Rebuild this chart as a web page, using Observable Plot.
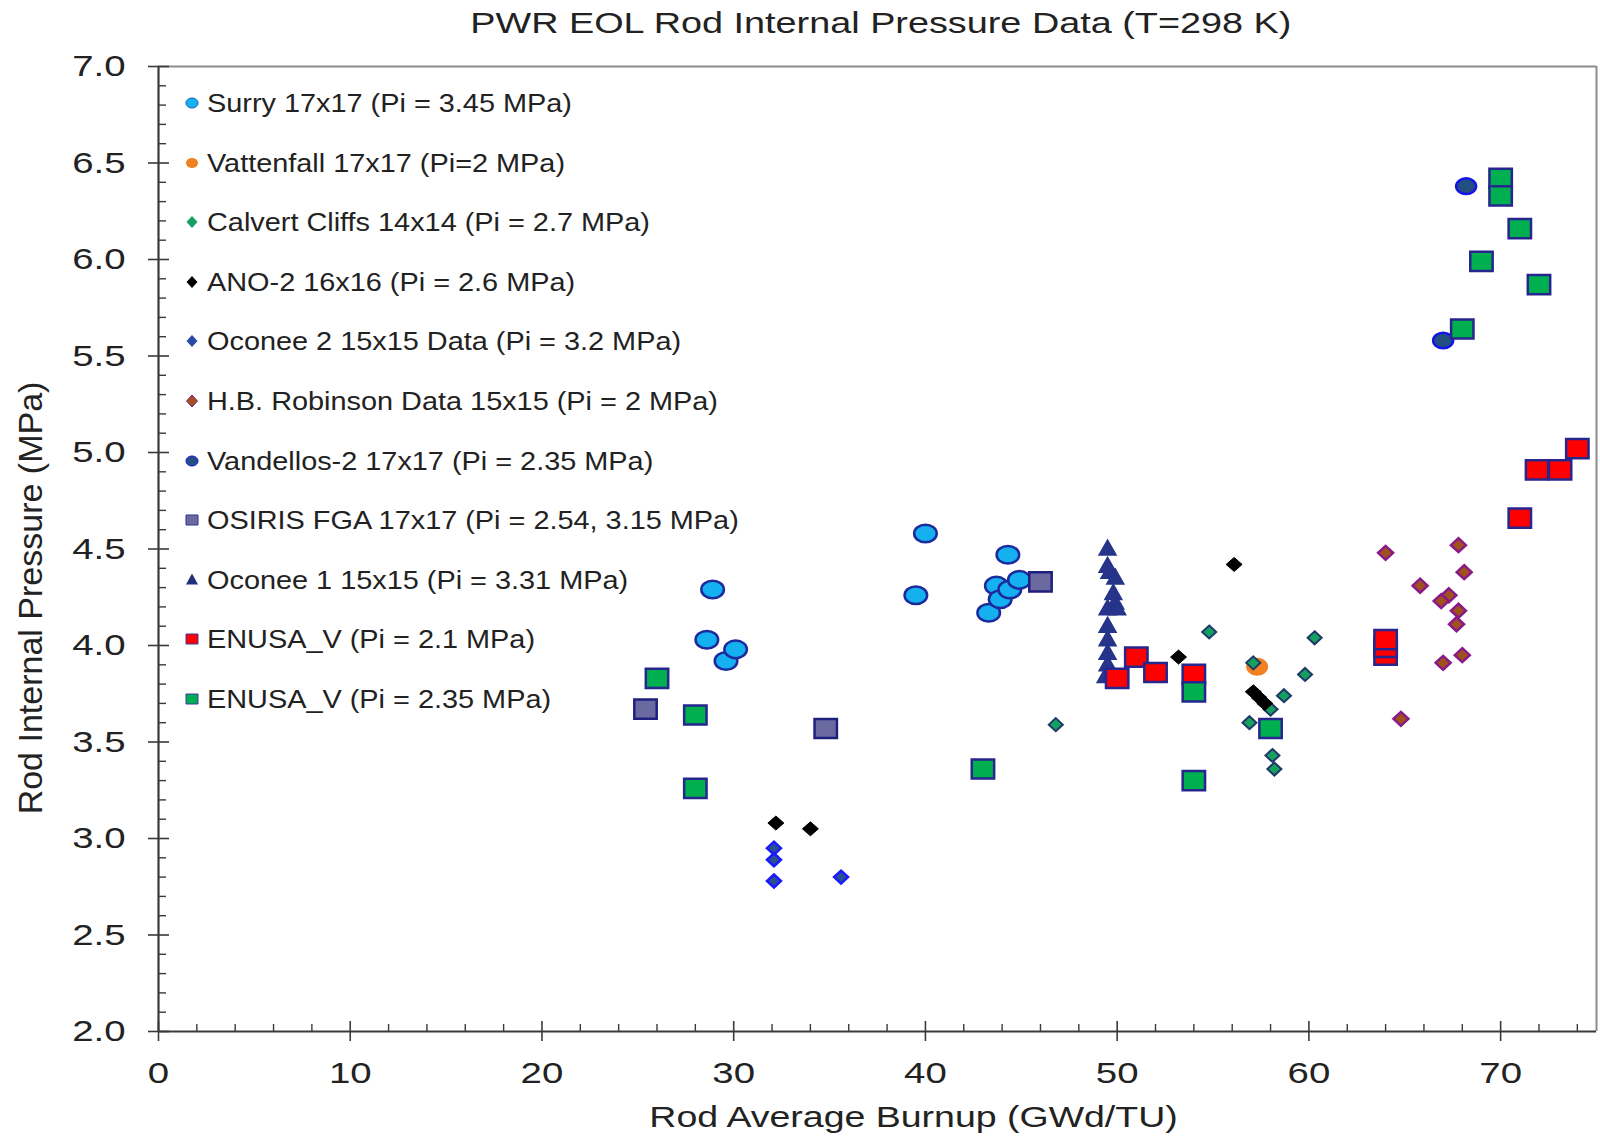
<!DOCTYPE html>
<html>
<head>
<meta charset="utf-8">
<script src="https://cdn.jsdelivr.net/npm/d3@7"></script>
<script src="https://cdn.jsdelivr.net/npm/@observablehq/plot@0.6"></script>
<style>
  body { margin: 0; background: #fff; font-family: "Liberation Sans", Arial, sans-serif; }
  #wrap { position: relative; width: 1600px; height: 1138px; overflow: hidden; background: #fff; }
  #title { height: 48px; line-height: 46px; font-size: 30px; color: #222; text-align: center;
           box-sizing: border-box; padding-left: 162px; width: 1600px; white-space: nowrap; }
  #title span { display: inline-block; transform: scaleX(1.26); }
  #legend { position: absolute; left: 0; top: 0; width: 1px; height: 1px; }
  .lrow { position: absolute; left: 180px; height: 30px; white-space: nowrap; }
  .lrow svg { position: absolute; left: 4px; top: 8px; overflow: visible; }
  .lrow span { position: absolute; left: 27px; top: 0; line-height: 30px; font-size: 26px; color: #222;
               transform: scaleX(1.11); transform-origin: left center; }
</style>
</head>
<body>
<div id="wrap">
  <div id="title"><span>PWR EOL Rod Internal Pressure Data (T=298 K)</span></div>
  <div id="chart"></div>
  <div id="legend"></div>
</div>
<script>
// ---------- data (burnup GWd/TU, pressure MPa) ----------
const surry      = [[28.9,4.29],[28.6,4.03],[29.6,3.92],[30.1,3.98],[40.0,4.58],[39.5,4.26],[43.3,4.17],[43.7,4.31],[43.9,4.24],[44.4,4.29],[44.3,4.47],[44.9,4.34]];
const vattenfall = [[57.3,3.89]];
const calvert    = [[46.8,3.59],[54.8,4.07],[60.3,4.04],[57.1,3.91],[59.8,3.85],[58.7,3.74],[58.0,3.67],[56.9,3.60],[58.1,3.43],[58.2,3.36]];
const ano2       = [[32.2,3.08],[34.0,3.05],[56.1,4.42],[53.2,3.94],[57.1,3.76],[57.4,3.73],[57.7,3.70]];
const oconee2    = [[32.1,2.95],[32.1,2.89],[32.1,2.78],[35.6,2.80]];
const robinson   = [[64.0,4.48],[67.8,4.52],[68.1,4.38],[65.8,4.31],[67.3,4.26],[66.9,4.23],[67.8,4.18],[67.7,4.11],[68.0,3.95],[67.0,3.91],[64.8,3.62]];
const vandellos  = [[68.2,6.38],[67.0,5.58]];
const osiris     = [[25.4,3.67],[34.8,3.57],[46.0,4.33]];
const oconee1    = [[49.5,4.50],[49.5,4.41],[49.6,4.38],[49.9,4.35],[49.8,4.27],[49.9,4.22],[49.5,4.19],[50.0,4.19],[49.5,4.10],[49.5,4.03],[49.5,3.96],[49.5,3.90],[49.4,3.84]];
const enusa21    = [[74.0,5.02],[71.9,4.91],[73.1,4.91],[71.0,4.66],[51.0,3.94],[50.0,3.83],[52.0,3.86],[54.0,3.85],[64.0,3.95],[64.0,3.99],[64.0,4.03]];
const enusa235   = [[70.0,6.42],[70.0,6.33],[71.0,6.16],[69.0,5.99],[72.0,5.87],[68.0,5.64],[26.0,3.83],[28.0,3.64],[28.0,3.26],[43.0,3.36],[54.0,3.30],[54.0,3.76],[58.0,3.57]];

const seriesNames = [
  "Surry 17x17 (Pi = 3.45 MPa)",
  "Vattenfall 17x17 (Pi=2 MPa)",
  "Calvert Cliffs 14x14 (Pi = 2.7 MPa)",
  "ANO-2 16x16 (Pi = 2.6 MPa)",
  "Oconee 2 15x15 Data (Pi = 3.2 MPa)",
  "H.B. Robinson Data 15x15 (Pi = 2 MPa)",
  "Vandellos-2 17x17 (Pi = 2.35 MPa)",
  "OSIRIS FGA 17x17 (Pi = 2.54, 3.15 MPa)",
  "Oconee 1 15x15 (Pi = 3.31 MPa)",
  "ENUSA_V (Pi = 2.1 MPa)",
  "ENUSA_V (Pi = 2.35 MPa)"
];
const seriesData = [surry, vattenfall, calvert, ano2, oconee2, robinson, vandellos, osiris, oconee1, enusa21, enusa235];

const xTicks = [0, 10, 20, 30, 40, 50, 60, 70];
const yTicks = [2.0, 2.5, 3.0, 3.5, 4.0, 4.5, 5.0, 5.5, 6.0, 6.5, 7.0];
const xMinor = d3.range(0, 76, 2).filter(v => v % 10 !== 0);
const yMinor = d3.range(20, 71, 1).filter(v => v % 5 !== 0).map(v => v / 10);

// ---------- marker shapes ----------
const K = 0.5523;
function ellipse(rx, ry) { return {draw(c) {
  c.moveTo(rx, 0);
  c.bezierCurveTo(rx, ry*K, rx*K, ry, 0, ry);
  c.bezierCurveTo(-rx*K, ry, -rx, ry*K, -rx, 0);
  c.bezierCurveTo(-rx, -ry*K, -rx*K, -ry, 0, -ry);
  c.bezierCurveTo(rx*K, -ry, rx, -ry*K, rx, 0);
  c.closePath(); }}; }
function rect(w, h) { return {draw(c) { c.moveTo(-w,-h); c.lineTo(w,-h); c.lineTo(w,h); c.lineTo(-w,h); c.closePath(); }}; }
function diamond(w, h) { return {draw(c) { c.moveTo(0,-h); c.lineTo(w,0); c.lineTo(0,h); c.lineTo(-w,0); c.closePath(); }}; }
function triangle(w, h) { return {draw(c) { c.moveTo(0,-h*0.6); c.lineTo(w,h*0.4); c.lineTo(-w,h*0.4); c.closePath(); }}; }

const styles = [
  {sym: ellipse(11.3, 8.8), leg: ellipse(6, 5),   fill: "#14b0f0", stroke: "#1c2a9c", sw: 2.5, lfill: "#14b0f0", lstroke: "#1c5ac0", lsw: 1},
  {sym: ellipse(11, 9),     leg: ellipse(6, 5),   fill: "#f08020", stroke: "none",    sw: 0,   lfill: "#f08020", lstroke: "none", lsw: 0},
  {sym: diamond(7, 6.5),    leg: diamond(5.5, 6), fill: "#15a060", stroke: "#1f3868", sw: 2,   lfill: "#15a060", lstroke: "none", lsw: 0},
  {sym: diamond(8, 7),      leg: diamond(5.5, 6), fill: "#000000", stroke: "#000000", sw: 1,   lfill: "#000000", lstroke: "none", lsw: 0},
  {sym: diamond(7, 6.5),    leg: diamond(5.5, 6), fill: "#2a5090", stroke: "#1a1aff", sw: 2.5, lfill: "#2a48a8", lstroke: "none", lsw: 0},
  {sym: diamond(7.5, 7),    leg: diamond(5.5, 6), fill: "#a0521a", stroke: "#8a1a8a", sw: 2.5, lfill: "#a0521a", lstroke: "#8a1a8a", lsw: 1},
  {sym: ellipse(10, 7.8),   leg: ellipse(6, 5),   fill: "#224e84", stroke: "#1414e6", sw: 2.5, lfill: "#224e84", lstroke: "#1414e6", lsw: 1},
  {sym: rect(11.2, 9.6),    leg: rect(6, 5),      fill: "#6a6aa0", stroke: "#1f1f80", sw: 2.5, lfill: "#6a6aa0", lstroke: "#2f2f90", lsw: 1},
  {sym: triangle(8.5, 15),  leg: triangle(6, 11), fill: "#26348a", stroke: "#26348a", sw: 1.5, lfill: "#1f2f7a", lstroke: "none", lsw: 0},
  {sym: rect(11.2, 9.6),    leg: rect(6, 5),      fill: "#ff0000", stroke: "#26268e", sw: 2.5, lfill: "#ff0000", lstroke: "#3a3aa0", lsw: 1},
  {sym: rect(11.2, 9.6),    leg: rect(6, 5),      fill: "#00b050", stroke: "#26268e", sw: 2.5, lfill: "#00b050", lstroke: "#3a3aa0", lsw: 1}
];

// ---------- chart ----------
const axisColor = "#3a3a3a";
const marks = [
  Plot.ruleY([7], {stroke: "#8c8c8c", strokeWidth: 2}),
  Plot.ruleX([75], {stroke: "#8c8c8c", strokeWidth: 2}),
  Plot.ruleX([0], {stroke: axisColor, strokeWidth: 2.2}),
  Plot.ruleY([2], {stroke: axisColor, strokeWidth: 2.2}),
  Plot.axisY(yTicks, {anchor: "left", tickSize: 10, tickPadding: 23, tickFormat: d3.format(".1f"), fontSize: 30, label: null, stroke: axisColor, strokeWidth: 1.6, fill: "#222"}),
  Plot.axisY(yTicks, {anchor: "left", tickSize: -11, tickFormat: () => "", label: null, stroke: axisColor, strokeWidth: 1.6}),
  Plot.axisY(yMinor, {anchor: "left", tickSize: -8, tickFormat: () => "", label: null, stroke: axisColor, strokeWidth: 1.4}),
  Plot.axisX(xTicks, {anchor: "bottom", tickSize: 10, tickPadding: 20, tickFormat: d3.format("d"), fontSize: 30, label: null, stroke: axisColor, strokeWidth: 1.6, fill: "#222"}),
  Plot.axisX(xTicks, {anchor: "bottom", tickSize: -10, tickFormat: () => "", label: null, stroke: axisColor, strokeWidth: 1.6}),
  Plot.axisX(xMinor, {anchor: "bottom", tickSize: -7, tickFormat: () => "", label: null, stroke: axisColor, strokeWidth: 1.4}),
  Plot.text(["Rod Average Burnup (GWd/TU)"], {frameAnchor: "bottom", textAnchor: "middle", lineAnchor: "middle", dx: 36, dy: 86, fontSize: 30, fill: "#222", className: "xlab"}),
  Plot.text(["Rod Internal Pressure (MPa)"], {frameAnchor: "left", textAnchor: "middle", lineAnchor: "middle", rotate: -90, dx: -127, dy: 49, fontSize: 34, fill: "#222", className: "ylab"})
];
seriesData.forEach((data, i) => {
  const s = styles[i];
  marks.push(Plot.dot(data, {x: d => d[0], y: d => d[1], symbol: s.sym, r: 8, fill: s.fill, stroke: s.stroke, strokeWidth: s.sw, strokeLinejoin: "miter"}));
});

const chart = Plot.plot({
  width: 1600,
  height: 1090,
  marginTop: 18,
  marginBottom: 107,
  marginLeft: 158,
  marginRight: 4,
  x: {domain: [0, 75], axis: null},
  y: {domain: [2, 7], axis: null},
  style: {fontFamily: "'Liberation Sans', Arial, sans-serif", background: "#fff", color: "#222", overflow: "visible"},
  marks
});
document.getElementById("chart").appendChild(chart);

// emulate the horizontally stretched lettering of the source figure
chart.querySelectorAll("text").forEach(t => {
  if (t.closest(".ylab")) return;
  const s = t.closest(".xlab") ? 1.25 : 1.28;
  const ax = parseFloat(t.getAttribute("x")) || 0;
  const tr = t.getAttribute("transform") || "";
  t.setAttribute("transform", `${tr} translate(${ax},0) scale(${s},1) translate(${-ax},0)`);
});

// ---------- legend (inside plot area, upper left) ----------
const legend = document.getElementById("legend");
seriesNames.forEach((name, i) => {
  const s = styles[i];
  const row = document.createElement("div");
  row.className = "lrow";
  row.style.top = (88 + i * 59.6) + "px";
  const p = d3.path(); s.leg.draw(p, 0);
  row.innerHTML = `<svg width="16" height="14" viewBox="-8 -7 16 14"><path d="${p.toString()}" fill="${s.lfill}" stroke="${s.lstroke}" stroke-width="${s.lsw}"/></svg><span></span>`;
  row.querySelector("span").textContent = name;
  legend.appendChild(row);
});
</script>
</body>
</html>
